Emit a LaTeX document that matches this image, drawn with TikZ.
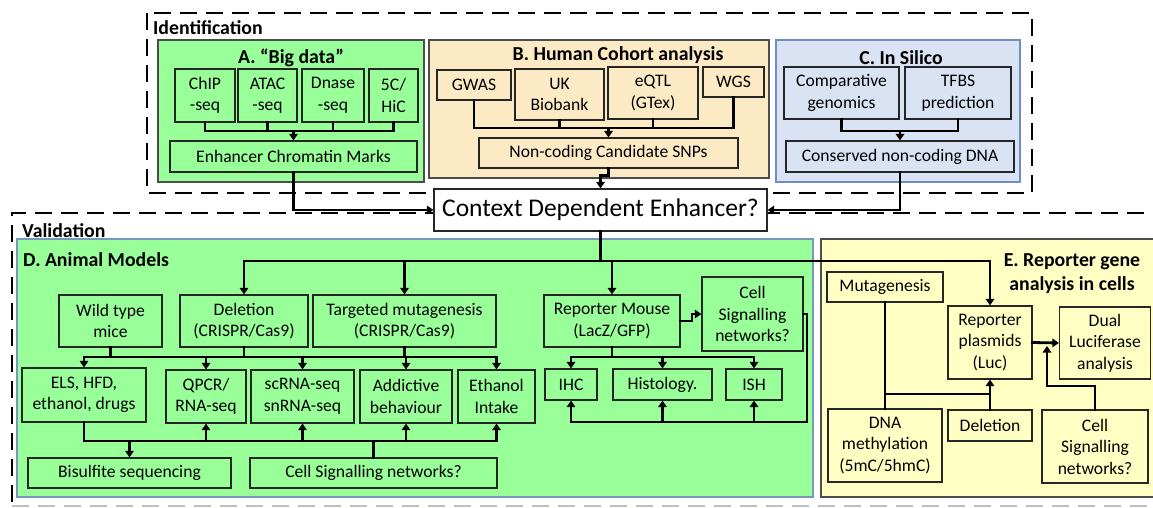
\documentclass[tikz,border=0pt]{standalone}
\usepackage{fontspec}
\setmainfont{Carlito}
\usetikzlibrary{arrows.meta}
\definecolor{agreen}{RGB}{153,255,153}
\definecolor{btan}{RGB}{252,234,197}
\definecolor{cblue}{RGB}{218,227,243}
\definecolor{cborder}{RGB}{110,140,200}
\definecolor{eyellow}{RGB}{255,255,196}
\definecolor{dborder}{RGB}{120,150,190}
\begin{document}
\begin{tikzpicture}[x=1pt,y=-1pt,
  panel/.style={draw=black!70, line width=1.2pt, fill=#1},
  bx/.style={draw=black!85, line width=1.2pt, fill=#1, align=center, inner sep=1pt,
    font=\fontsize{17.6}{21.5}\selectfont},
  ttl/.style={font=\fontsize{19.8}{24}\selectfont\bfseries, align=center, inner sep=0pt},
  conn/.style={line width=2.8pt, line cap=rect},
  arr/.style={conn, -{Triangle[width=8.5pt,length=6.5pt]}},
  dsh/.style={line width=2.9pt, dash pattern=on 17pt off 9pt}]
\clip (0,0) rectangle (1153,508);
\fill[white] (0,0) rectangle (1153,508);
% dashed frames
\draw[dsh] (147,13) rectangle (1032,193);
\draw[dsh] (1170,213) -- (12,213) -- (12,506);
\draw[dsh, draw=black!25] (12,506) -- (1170,506);
\node[ttl, anchor=west] (lident) at (153,28) {Identification};
\node[ttl, anchor=west] (lvalid) at (22,231) {Validation};
% panels
\node[panel=agreen, minimum width=266, minimum height=142] (A) at (291,111) {};
\node[panel=btan, minimum width=340, minimum height=138] (B) at (599,109) {};
\node[panel=cblue, draw=cborder, minimum width=244, minimum height=142] (C) at (898,111) {};
\node[panel=agreen, draw=dborder, minimum width=796, minimum height=258] (D) at (415,368) {};
\node[panel=eyellow, minimum width=340, minimum height=258] (E) at (991,368) {};
\node[ttl] (tA) at (291,58) {A. “Big data”};
\node[ttl] (tB) at (618,55) {B. Human Cohort analysis};
\node[ttl] (tC) at (901,58) {C. In Silico};
\node[ttl, anchor=west] (tD) at (23,260) {D. Animal Models};
\node[ttl] (tE) at (1072,274) {E. Reporter gene\\analysis in cells};
% A
\node[bx=agreen, minimum width=60, minimum height=53] (chip) at (205,95.5) {ChIP\\-seq};
\node[bx=agreen, minimum width=59, minimum height=53] (atac) at (267.5,95.5) {ATAC\\-seq};
\node[bx=agreen, minimum width=62, minimum height=53] (dnase) at (333,95.5) {Dnase\\-seq};
\node[bx=agreen, minimum width=49, minimum height=53] (hic) at (393.5,95.5) {5C/\\HiC};
\node[bx=agreen, minimum width=247, minimum height=31] (ecm) at (293.5,156.5) {Enhancer Chromatin Marks};
% B
\node[bx=btan, minimum width=74, minimum height=30] (gwas) at (474,85) {GWAS};
\node[bx=btan, minimum width=89, minimum height=51] (ukb) at (559.5,94.5) {UK\\Biobank};
\node[bx=btan, minimum width=90, minimum height=52] (eqtl) at (653,93) {eQTL\\(GTex)};
\node[bx=btan, minimum width=61, minimum height=30] (wgs) at (733.5,82) {WGS};
\node[bx=btan, minimum width=259, minimum height=30] (snp) at (608.5,153) {Non-coding Candidate SNPs};
% C
\node[bx=cblue, minimum width=115, minimum height=52] (comp) at (841.5,93) {Comparative\\genomics};
\node[bx=cblue, minimum width=106, minimum height=52] (tfbs) at (958,93) {TFBS\\prediction};
\node[bx=cblue, minimum width=228, minimum height=31] (cnc) at (900,156.5) {Conserved non-coding DNA};
% context
\node[bx=white, minimum width=333, minimum height=42, font=\fontsize{25.5}{30}\selectfont] (ctx) at (600.5,210) {Context Dependent Enhancer?};
% D
\node[bx=agreen, minimum width=103, minimum height=52] (wt) at (110.5,321) {Wild type\\mice};
\node[bx=agreen, minimum width=128, minimum height=52] (del) at (244,321) {Deletion\\(CRISPR/Cas9)};
\node[bx=agreen, minimum width=183, minimum height=52] (tm) at (404.5,321) {Targeted mutagenesis\\(CRISPR/Cas9)};
\node[bx=agreen, minimum width=136, minimum height=52] (rm) at (612,321) {Reporter Mouse\\(LacZ/GFP)};
\node[bx=agreen, minimum width=101, minimum height=74] (csD) at (752.5,314) {Cell\\Signalling\\networks?};
\node[bx=agreen, minimum width=124, minimum height=54] (els) at (84,395) {ELS, HFD,\\ethanol, drugs};
\node[bx=agreen, minimum width=80, minimum height=53] (qpcr) at (206,396.5) {QPCR/\\RNA-seq};
\node[bx=agreen, minimum width=103, minimum height=53] (sc) at (302.5,396.5) {scRNA-seq\\snRNA-seq};
\node[bx=agreen, minimum width=92, minimum height=53] (add) at (406,396.5) {Addictive\\behaviour};
\node[bx=agreen, minimum width=77, minimum height=53] (eth) at (496.5,396.5) {Ethanol\\Intake};
\node[bx=agreen, minimum width=52, minimum height=31] (ihc) at (571,384.5) {IHC};
\node[bx=agreen, minimum width=99, minimum height=31] (hist) at (662.5,384.5) {Histology.};
\node[bx=agreen, minimum width=56, minimum height=31] (ish) at (754,384.5) {ISH};
\node[bx=agreen, minimum width=203, minimum height=30] (bis) at (129.5,473) {Bisulfite sequencing};
\node[bx=agreen, minimum width=247, minimum height=30] (csB) at (373.5,473) {Cell Signalling networks?};
% E
\node[bx=eyellow, minimum width=116, minimum height=30] (mut) at (885,287) {Mutagenesis};
\node[bx=eyellow, minimum width=84, minimum height=73] (rp) at (990,342.5) {Reporter\\plasmids\\(Luc)};
\node[bx=eyellow, minimum width=91, minimum height=72] (dual) at (1105,343) {Dual\\Luciferase\\analysis};
\node[bx=eyellow, minimum width=114, minimum height=73] (dna) at (885,445.5) {DNA\\methylation\\(5mC/5hmC)};
\node[bx=eyellow, minimum width=84, minimum height=31] (delE) at (990,425.5) {Deletion};
\node[bx=eyellow, minimum width=106, minimum height=73] (csE) at (1095,446.5) {Cell\\Signalling\\networks?};
% --- connectors A
\coordinate (busA) at (293.5,131);
\draw[conn] (chip.south) |- (busA) -| (hic.south);
\draw[conn] (atac.south) -- (atac.south |- busA);
\draw[conn] (dnase.south) -- (dnase.south |- busA);
\draw[arr] (busA) -- (ecm.north);
\draw[arr] (ecm.south) |- (ctx.west);
% B
\coordinate (busB) at (608.5,128);
\draw[conn] (gwas.south) |- (busB) -| (wgs.south);
\draw[conn] (ukb.south) -- (ukb.south |- busB);
\draw[conn] (eqtl.south) -- (eqtl.south |- busB);
\draw[arr] (busB) -- (snp.north);
\draw[arr] (snp.south) -- ++(0,7) -| (ctx.north);
% C
\coordinate (busC) at (900,131);
\draw[conn] (comp.south) |- (busC) -| (tfbs.south);
\draw[arr] (busC) -- (cnc.north);
\draw[arr] (cnc.south) |- (ctx.east);
% validation top bus
\coordinate (busD) at (600.5,261);
\draw[conn] (ctx.south) -- (busD);
\draw[arr] (busD) -| (del.north);
\draw[arr] (busD) -| (rp.north);
\draw[arr] (tm.north |- busD) -- (tm.north);
\draw[arr] (rm.north |- busD) -- (rm.north);
% D row 2 bus
\coordinate (bus2) at (300,357);
\draw[conn] (els.north |- bus2) -- (eth.north |- bus2);
\draw[conn] (wt.south) -- (wt.south |- bus2);
\draw[conn] (del.south) -- (del.south |- bus2);
\draw[conn] (tm.south) -- (tm.south |- bus2);
\draw[arr] (els.north |- bus2) -- (els.north);
\draw[arr] (qpcr.north |- bus2) -- (qpcr.north);
\draw[arr] (sc.north |- bus2) -- (sc.north);
\draw[arr] (add.north |- bus2) -- (add.north);
\draw[arr] (eth.north |- bus2) -- (eth.north);
% D row 3 bus
\coordinate (bus3) at (300,441);
\draw[conn] (els.south) |- (bus3) -- (eth.south |- bus3);
\draw[conn] (csB.north) -- (csB.north |- bus3);
\draw[arr] (bis.north |- bus3) -- (bis.north);
\draw[arr] (qpcr.south |- bus3) -- (qpcr.south);
\draw[arr] (sc.south |- bus3) -- (sc.south);
\draw[arr] (add.south |- bus3) -- (add.south);
\draw[arr] (eth.south |- bus3) -- (eth.south);
% reporter mouse
\coordinate (busR) at (662,357);
\draw[conn] (rm.south) -- (rm.south |- busR);
\draw[conn] (ihc.north |- busR) -- (ish.north |- busR);
\draw[arr] (ihc.north |- busR) -- (ihc.north);
\draw[arr] (hist.north |- busR) -- (hist.north);
\draw[arr] (ish.north |- busR) -- (ish.north);
\coordinate (rmj) at (692,321);
\draw[arr] (rm.east) -- (rmj) |- (csD.west);
\coordinate (fb) at (807,422);
\draw[arr] (csD.east) -| (fb) -| (ihc.south);
\draw[arr] (hist.south |- fb) -- (hist.south);
\draw[arr] (ish.south |- fb) -- (ish.south);
% E
\coordinate (busE) at (990,394);
\draw[conn] (mut.south) -- (dna.north);
\draw[conn] (mut.south |- busE) -- (busE);
\draw[arr] (delE.north) -- (rp.south);
\draw[arr] (rp.east) -- (dual.west);
\coordinate (ejA) at (1095,386);
\coordinate (ej) at (1047,346);
\draw[arr] (csE.north) -- (ejA) -| (ej);
\end{tikzpicture}
\end{document}
